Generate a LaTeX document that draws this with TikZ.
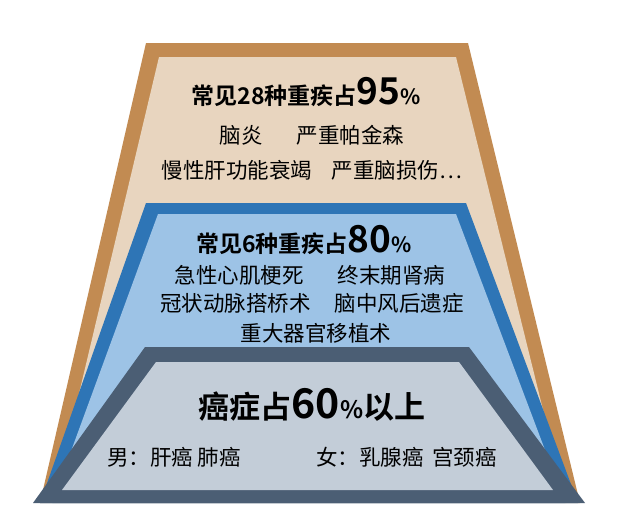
\documentclass[tikz,border=0pt]{standalone}
\usepackage{fontspec}
\setmainfont{Noto Sans CJK SC}
\newfontfamily\cjkb{Noto Sans CJK SC Bold}
\definecolor{tanB}{HTML}{C28B52}
\definecolor{tanF}{HTML}{E8D5BF}
\definecolor{bluB}{HTML}{2E75B6}
\definecolor{bluF}{HTML}{9DC3E6}
\definecolor{slaB}{HTML}{4B5E74}
\definecolor{slaF}{HTML}{C3CDD8}
\begin{document}
\begin{tikzpicture}[x=1pt,y=-1pt,
  body/.style={font=\fontsize{21.5}{24}\selectfont, inner sep=0pt},
  title/.style={font=\cjkb\fontsize{23}{26}\selectfont, inner sep=0pt}]
\useasboundingbox (0,0) rectangle (617,525);
\fill[white] (0,0) rectangle (617,525);
% outer
\fill[tanB] (146,43)--(468,43)--(580,503)--(40,503)--cycle;
\fill[tanF] (159,57)--(456,57)--(566,503)--(53,503)--cycle;
% middle
\fill[bluB] (146,203)--(466,203)--(578,503)--(40,503)--cycle;
\fill[bluF] (158,214)--(456,214)--(565,503)--(52,503)--cycle;
% inner
\fill[slaB] (145,347)--(469,347)--(585,503)--(33,503)--cycle;
\fill[slaF] (156,362)--(459,362)--(553,490)--(62,490)--cycle;
% texts
\node[title] (t1) at (306,92) {常见28种重疾占{\fontsize{37}{40}\selectfont 95}{\fontsize{21}{24}\selectfont\%}};
\node[body] (a1) at (312,135) {脑炎\hspace{1.6em}严重帕金森};
\node[body] (a2) at (312,170) {慢性肝功能衰竭\hspace{0.9em}严重脑损伤…};
\node[title] (t2) at (304,240) {常见6种重疾占{\fontsize{37}{40}\selectfont 80}{\fontsize{21}{24}\selectfont\%}};
\node[body] (b1) at (310,275) {急性心肌梗死\hspace{1.6em}终末期肾病};
\node[body] (b2) at (312,303) {冠状动脉搭桥术\hspace{1.1em}脑中风后遗症};
\node[body] (b3) at (316,333) {重大器官移植术};
\node[font=\cjkb\fontsize{31}{34}\selectfont, inner sep=0pt] (t3) at (312,405) {癌症占{\fontsize{41}{44}\selectfont 60}{\fontsize{24}{26}\selectfont\%}以上};
\node[body, anchor=west] (c1) at (107,457) {男：肝癌 肺癌};
\node[body, anchor=west] (c2) at (316,457) {女：乳腺癌\hspace{0.4em}宫颈癌};
\end{tikzpicture}
\end{document}
